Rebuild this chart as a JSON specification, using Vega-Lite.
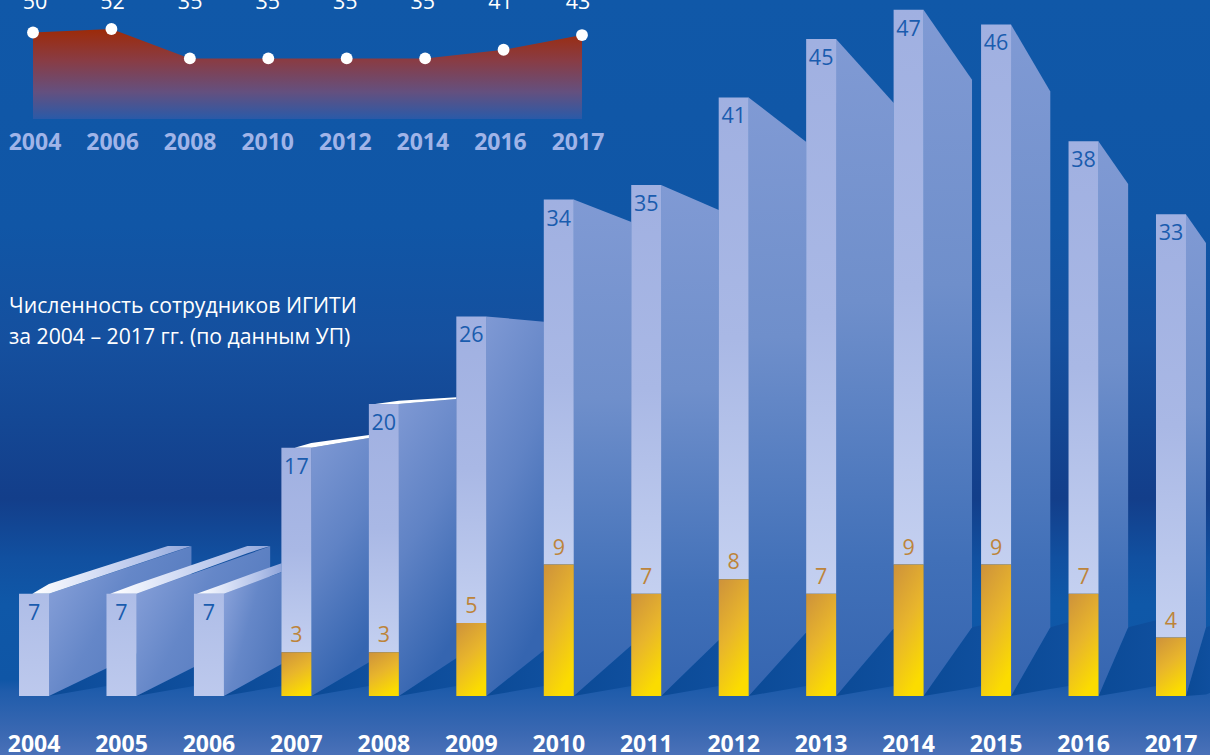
{
"$schema":"https://vega.github.io/schema/vega-lite/v6.json",
"width":1210,"height":755,"padding":0,"autosize":"none",
"background":"#1058a8",
"config":{"view":{"stroke":null},"font":"Open Sans","scale":{"continuousPadding":0}},
"datasets":{
"frame":[{"x0":2003.611,"x1":2017.446,"y0":-4.04,"y1":47.67}],
"bars":[
{"year":2004,"total":7,"gold":0},{"year":2005,"total":7,"gold":0},{"year":2006,"total":7,"gold":0},
{"year":2007,"total":17,"gold":3},{"year":2008,"total":20,"gold":3},{"year":2009,"total":26,"gold":5},
{"year":2010,"total":34,"gold":9},{"year":2011,"total":35,"gold":7},{"year":2012,"total":41,"gold":8},
{"year":2013,"total":45,"gold":7},{"year":2014,"total":47,"gold":9},{"year":2015,"total":46,"gold":9},
{"year":2016,"total":38,"gold":7},{"year":2017,"total":33,"gold":4}],
"sides":[
{"year":2004,"x":2004.17,"top":7,"bottom":0},{"year":2004,"x":2004.83,"top":8.33,"bottom":1.91},{"year":2004,"x":2005.8,"top":10.25,"bottom":4.78},
{"year":2005,"x":2005.17,"top":7,"bottom":0},{"year":2005,"x":2005.83,"top":8.4,"bottom":1.98},{"year":2005,"x":2006.7,"top":10.25,"bottom":4.5},
{"year":2006,"x":2006.17,"top":7,"bottom":0},{"year":2006,"x":2006.83,"top":8.47,"bottom":2.19},
{"year":2007,"x":2007.17,"top":17,"bottom":0},{"year":2007,"x":2007.83,"top":17.67,"bottom":2.32},
{"year":2008,"x":2008.17,"top":20,"bottom":0},{"year":2008,"x":2008.83,"top":20.35,"bottom":2.6},
{"year":2009,"x":2009.17,"top":26,"bottom":0},{"year":2009,"x":2009.83,"top":25.64,"bottom":3.14},
{"year":2010,"x":2010.17,"top":34,"bottom":0},{"year":2010,"x":2010.83,"top":32.47,"bottom":3.48},
{"year":2011,"x":2011.17,"top":35,"bottom":0},{"year":2011,"x":2011.83,"top":33.29,"bottom":3.83},
{"year":2012,"x":2012.17,"top":41,"bottom":0},{"year":2012,"x":2012.83,"top":37.94,"bottom":4.37},
{"year":2013,"x":2013.17,"top":45,"bottom":0},{"year":2013,"x":2013.83,"top":40.61,"bottom":4.64},
{"year":2014,"x":2014.17,"top":47,"bottom":0},{"year":2014,"x":2014.725,"top":42.2,"bottom":4.71},
{"year":2015,"x":2015.17,"top":46,"bottom":0},{"year":2015,"x":2015.62,"top":41.41,"bottom":4.71},
{"year":2016,"x":2016.17,"top":38,"bottom":0},{"year":2016,"x":2016.51,"top":35.07,"bottom":4.71},
{"year":2017,"x":2017.17,"top":33,"bottom":0},{"year":2017,"x":2017.4,"top":31.02,"bottom":4.71}],
"shadows":[
{"year":2004,"x":2004.17,"top":0,"bottom":0},{"year":2004,"x":2004.83,"top":1.91,"bottom":0.68},
{"year":2005,"x":2005.17,"top":0,"bottom":0},{"year":2005,"x":2005.83,"top":1.98,"bottom":0.68},
{"year":2006,"x":2006.17,"top":0,"bottom":0},{"year":2006,"x":2006.83,"top":2.19,"bottom":0.68},
{"year":2007,"x":2007.17,"top":0,"bottom":0},{"year":2007,"x":2007.83,"top":2.32,"bottom":0.68},
{"year":2008,"x":2008.17,"top":0,"bottom":0},{"year":2008,"x":2008.83,"top":2.6,"bottom":0.68},
{"year":2009,"x":2009.17,"top":0,"bottom":0},{"year":2009,"x":2009.83,"top":3.14,"bottom":0.68},
{"year":2010,"x":2010.17,"top":0,"bottom":0},{"year":2010,"x":2010.83,"top":3.48,"bottom":0.68},
{"year":2011,"x":2011.17,"top":0,"bottom":0},{"year":2011,"x":2011.83,"top":3.83,"bottom":0.68},
{"year":2012,"x":2012.17,"top":0,"bottom":0},{"year":2012,"x":2012.83,"top":4.37,"bottom":0.68},
{"year":2013,"x":2013.17,"top":0,"bottom":0},{"year":2013,"x":2013.83,"top":4.64,"bottom":0.68},
{"year":2014,"x":2014.17,"top":0,"bottom":0},{"year":2014,"x":2014.725,"top":4.71,"bottom":0.55},{"year":2014,"x":2014.83,"top":4.85,"bottom":0.68},
{"year":2015,"x":2015.17,"top":0,"bottom":0},{"year":2015,"x":2015.62,"top":4.71,"bottom":0.48},{"year":2015,"x":2015.83,"top":5.05,"bottom":0.68},
{"year":2016,"x":2016.17,"top":0,"bottom":0},{"year":2016,"x":2016.51,"top":4.71,"bottom":0.35},{"year":2016,"x":2016.83,"top":5.19,"bottom":0.68},
{"year":2017,"x":2017.17,"top":0,"bottom":0},{"year":2017,"x":2017.4,"top":4.71,"bottom":0.1},{"year":2017,"x":2017.446,"top":4.79,"bottom":0.2}],
"faces":[
{"year":2004,"x":2003.98,"top":7,"bottom":7},{"year":2004,"x":2004.17,"top":7.67,"bottom":7},{"year":2004,"x":2005.53,"top":10.28,"bottom":9.75},{"year":2004,"x":2005.8,"top":10.28,"bottom":10.28},
{"year":2005,"x":2004.87,"top":7,"bottom":7},{"year":2005,"x":2005.17,"top":7.67,"bottom":7},{"year":2005,"x":2006.44,"top":10.28,"bottom":9.78},{"year":2005,"x":2006.7,"top":10.28,"bottom":10.28},
{"year":2006,"x":2005.86,"top":7,"bottom":7},{"year":2006,"x":2006.17,"top":7.68,"bottom":7},{"year":2006,"x":2006.83,"top":9.1,"bottom":8.49}],
"edges":[
{"year":2007,"x":2006.98,"top":17,"bottom":17},{"year":2007,"x":2007.17,"top":17.33,"bottom":17},{"year":2007,"x":2007.83,"top":17.87,"bottom":17.67},
{"year":2008,"x":2007.9,"top":20,"bottom":20},{"year":2008,"x":2008.17,"top":20.22,"bottom":20},{"year":2008,"x":2008.83,"top":20.47,"bottom":20.35}],
"notes":[
{"x":2003.714,"y":26.23,"text":"Численность сотрудников ИГИТИ"},
{"x":2003.714,"y":24.11,"text":"за 2004 – 2017 гг. (по данным УП)"}],
"inset":[
{"year":"2004","level":50,"label":"50"},{"year":"2006","level":52,"label":"52"},{"year":"2008","level":35,"label":"35"},
{"year":"2010","level":35,"label":"35"},{"year":"2012","level":35,"label":"35"},{"year":"2014","level":35,"label":"35"},
{"year":"2016","level":40,"label":"41"},{"year":"2017","level":48.5,"label":"43"}]
},
"resolve":{"scale":{"x":"independent","y":"independent"}},
"layer":[
{
"encoding":{},
"layer":[
{"data":{"name":"frame"},"mark":{"type":"rect","opacity":1,"color":{"gradient":"linear","x1":0,"y1":0,"x2":0,"y2":1,"stops":[
{"offset":0,"color":"#1058a8"},{"offset":0.3,"color":"#1056a6"},{"offset":0.45,"color":"#15509f"},{"offset":0.55,"color":"#144895"},{"offset":0.66,"color":"#133e8a"},{"offset":0.74,"color":"#1150a0"},{"offset":0.8,"color":"#0f58a8"},{"offset":0.9,"color":"#0f56a6"},{"offset":0.915,"color":"#1f5cab"},{"offset":0.97,"color":"#3a68b2"},{"offset":1,"color":"#4a71b8"}]}},
"encoding":{
"x":{"field":"x0","type":"quantitative","axis":null,"scale":{"domain":[2003.611,2017.446],"nice":false,"zero":false,"padding":0}},
"x2":{"field":"x1"},
"y":{"field":"y0","type":"quantitative","axis":null,"scale":{"domain":[-4.04,47.67],"nice":false,"zero":false,"padding":0}},
"y2":{"field":"y1"}}},
{"data":{"name":"shadows"},"mark":{"type":"area","opacity":1,"color":{"gradient":"linear","x1":0,"y1":0,"x2":1,"y2":0,"stops":[{"offset":0,"color":"#0b4a96"},{"offset":1,"color":"#0f4f9e"}]}},
"encoding":{"x":{"field":"x","type":"quantitative"},"y":{"field":"top","type":"quantitative","stack":null},"y2":{"field":"bottom"},"detail":{"field":"year"}}},
{"data":{"name":"sides"},"transform":[{"filter":"datum.year<=2006"}],"mark":{"type":"area","opacity":1,"color":{"gradient":"linear","x1":0,"y1":0,"x2":1,"y2":0.6,"stops":[{"offset":0,"color":"#8ea5dc"},{"offset":0.5,"color":"#6587c8"},{"offset":1,"color":"#5379bd"}]}},
"encoding":{"x":{"field":"x","type":"quantitative"},"y":{"field":"top","type":"quantitative","stack":null},"y2":{"field":"bottom"},"detail":{"field":"year"}}},
{"data":{"name":"sides"},"transform":[{"filter":"datum.year>2006 && datum.year<=2009"}],"mark":{"type":"area","opacity":1,"color":{"gradient":"linear","x1":0,"y1":0,"x2":0.3,"y2":1,"stops":[{"offset":0,"color":"#7f99d4"},{"offset":0.5,"color":"#6083c5"},{"offset":1,"color":"#3565b0"}]}},
"encoding":{"x":{"field":"x","type":"quantitative"},"y":{"field":"top","type":"quantitative","stack":null},"y2":{"field":"bottom"},"detail":{"field":"year"}}},
{"data":{"name":"sides"},"transform":[{"filter":"datum.year>2009"}],"mark":{"type":"area","opacity":1,"color":{"gradient":"linear","x1":0,"y1":0,"x2":0,"y2":1,"stops":[{"offset":0,"color":"#809ad4"},{"offset":0.4,"color":"#6f8fcb"},{"offset":0.8,"color":"#4170b8"},{"offset":1,"color":"#3565b0"}]}},
"encoding":{"x":{"field":"x","type":"quantitative"},"y":{"field":"top","type":"quantitative","stack":null},"y2":{"field":"bottom"},"detail":{"field":"year"}}},
{"data":{"name":"faces"},"mark":{"type":"area","opacity":1,"color":{"gradient":"linear","x1":0,"y1":0,"x2":1,"y2":0,"stops":[{"offset":0,"color":"#ffffff"},{"offset":0.4,"color":"#d5def5"},{"offset":0.75,"color":"#b0c0e8"},{"offset":1,"color":"#8fa5da"}]}},
"encoding":{"x":{"field":"x","type":"quantitative"},"y":{"field":"top","type":"quantitative","stack":null},"y2":{"field":"bottom"},"detail":{"field":"year"}}},
{"data":{"name":"edges"},"mark":{"type":"area","opacity":1,"color":"#ffffff"},
"encoding":{"x":{"field":"x","type":"quantitative"},"y":{"field":"top","type":"quantitative","stack":null},"y2":{"field":"bottom"},"detail":{"field":"year"}}},
{"data":{"name":"bars"},"transform":[{"filter":"datum.total<10"}],"mark":{"type":"bar","orient":"vertical","size":30,"opacity":1,"color":{"gradient":"linear","x1":0,"y1":0,"x2":0,"y2":1,"stops":[{"offset":0,"color":"#aebde7"},{"offset":1,"color":"#bdc9ed"}]}},
"encoding":{"x":{"field":"year","type":"quantitative"},"y":{"field":"total","type":"quantitative","stack":null},"y2":{"field":"gold"}}},
{"data":{"name":"bars"},"transform":[{"filter":"datum.total>=10"}],"mark":{"type":"bar","orient":"vertical","size":30,"opacity":1,"color":{"gradient":"linear","x1":0,"y1":0,"x2":0,"y2":1,"stops":[{"offset":0,"color":"#a0b0e1"},{"offset":0.5,"color":"#a9b8e5"},{"offset":1,"color":"#c4d0f0"}]}},
"encoding":{"x":{"field":"year","type":"quantitative"},"y":{"field":"total","type":"quantitative","stack":null},"y2":{"field":"gold"}}},
{"data":{"name":"bars"},"transform":[{"filter":"datum.gold>0"}],"mark":{"type":"bar","orient":"vertical","size":30,"opacity":1,"color":{"gradient":"linear","x1":0.1,"y1":0,"x2":0.5,"y2":1,"stops":[{"offset":0,"color":"#cf943a"},{"offset":0.5,"color":"#e8b52c"},{"offset":1,"color":"#fbdc00"}]}},
"encoding":{"x":{"field":"year","type":"quantitative"},"y":{"field":"gold","type":"quantitative","stack":null},"y2":{"datum":0}}},
{"data":{"name":"bars"},"mark":{"type":"text","fontSize":21.5,"color":"#1a5cae","baseline":"top","dy":9},
"encoding":{"x":{"field":"year","type":"quantitative"},"y":{"field":"total","type":"quantitative","stack":null},"text":{"field":"total"}}},
{"data":{"name":"bars"},"transform":[{"filter":"datum.gold>0"}],"mark":{"type":"text","fontSize":21.5,"color":"#bd843a","baseline":"alphabetic","dy":-10},
"encoding":{"x":{"field":"year","type":"quantitative"},"y":{"field":"gold","type":"quantitative","stack":null},"text":{"field":"gold"}}},
{"data":{"name":"bars"},"mark":{"type":"text","fontSize":23,"fontWeight":"bold","color":"#ffffff","baseline":"alphabetic"},
"encoding":{"x":{"field":"year","type":"quantitative"},"y":{"datum":-3.84},"text":{"field":"year","type":"nominal"}}},
{"data":{"name":"notes"},"mark":{"type":"text","fontSize":21.2,"color":"#ffffff","align":"left","baseline":"alphabetic"},
"encoding":{"x":{"field":"x","type":"quantitative"},"y":{"field":"y","type":"quantitative"},"text":{"field":"text"}}}
]},
{
"data":{"name":"inset"},
"resolve":{"scale":{"x":"independent"}},
"layer":[
{"mark":{"type":"area","opacity":1,"color":{"gradient":"linear","x1":0,"y1":0,"x2":0,"y2":1,"stops":[{"offset":0,"color":"#9d2a08"},{"offset":0.35,"color":"#893c44"},{"offset":0.7,"color":"#64507f"},{"offset":1,"color":"#2a5aa8"}]}},
"encoding":{"x":{"field":"year","type":"ordinal","axis":null,"sort":null,"scale":{"type":"point","range":[33,582],"padding":0}},
"y":{"field":"level","type":"quantitative","axis":null,"stack":null,"scale":{"domain":[0,52],"range":[119,29],"nice":false}}}},
{"mark":{"type":"point","filled":true,"opacity":1,"color":"#ffffff","size":140},
"encoding":{"x":{"field":"year","type":"ordinal","axis":null,"sort":null,"scale":{"type":"point","range":[33,582],"padding":0}},
"y":{"field":"level","type":"quantitative"}}},
{"layer":[
{"mark":{"type":"text","fontSize":21.5,"color":"#ffffff","baseline":"alphabetic"},
"encoding":{"y":{"datum":63.6},"text":{"field":"label"}}},
{"mark":{"type":"text","fontSize":23,"fontWeight":"bold","color":"#a0b4e8","baseline":"alphabetic"},
"encoding":{"y":{"datum":-17.9},"text":{"field":"year"}}}],
"encoding":{"x":{"field":"year","type":"ordinal","axis":null,"sort":null,"scale":{"type":"point","range":[35,578],"padding":0}}}}
]}
]}
